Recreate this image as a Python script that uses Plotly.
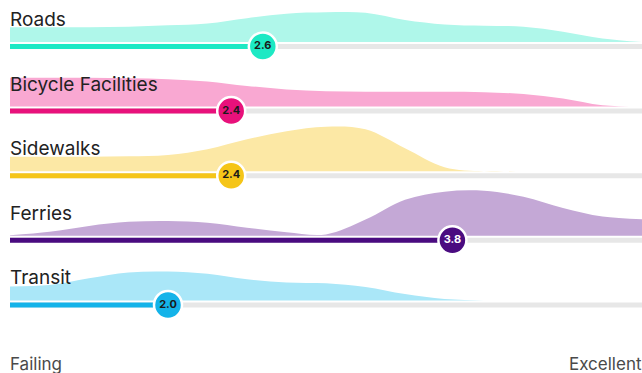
import plotly.graph_objects as go

# Survey categories and their average grades on a 1 (Failing) to 5 (Excellent) scale
categories = ["Roads", "Bicycle Facilities", "Sidewalks", "Ferries", "Transit"]
scores = [2.6, 2.4, 2.4, 3.8, 2.0]

# Grade points at which the response distributions are sampled
grade_grid = [1.0, 1.25, 1.5, 1.75, 2.0, 2.25, 2.5, 2.75, 3.0,
              3.25, 3.5, 3.75, 4.0, 4.25, 4.5, 4.75, 5.0]

# Relative response density (1.0 = tallest distribution) for each category
density_roads = [0.33, 0.33, 0.33, 0.34, 0.37, 0.41, 0.53, 0.63, 0.66,
                 0.65, 0.49, 0.39, 0.36, 0.34, 0.23, 0.08, 0.0]
density_bicycle = [0.64, 0.64, 0.64, 0.63, 0.61, 0.56, 0.46, 0.38, 0.34,
                   0.33, 0.33, 0.33, 0.32, 0.28, 0.18, 0.03, 0.0]
density_sidewalks = [0.32, 0.32, 0.32, 0.33, 0.36, 0.49, 0.71, 0.89, 0.99,
                     0.93, 0.51, 0.09, 0.0, 0.0, 0.0, 0.0, 0.0]
density_ferries = [0.01, 0.09, 0.22, 0.31, 0.33, 0.29, 0.18, 0.08, 0.03,
                   0.36, 0.80, 0.98, 1.0, 0.87, 0.62, 0.43, 0.37]
density_transit = [0.31, 0.34, 0.49, 0.62, 0.64, 0.59, 0.47, 0.40, 0.38,
                   0.30, 0.14, 0.03, 0.0, 0.0, 0.0, 0.0, 0.0]
densities = [density_roads, density_bicycle, density_sidewalks,
             density_ferries, density_transit]

scale_labels = ["Failing", "Excellent"]
scale_min, scale_max = 1.0, 5.0

# Styling
bar_colors = ["#1DE9C4", "#E8117B", "#F5C518", "#4A0B80", "#14B3E9"]
area_colors = ["#AFF7EA", "#F9A8D2", "#FCE8A5", "#C4A8D6", "#AAE7F8"]
badge_text_colors = ["#1A1A1A", "#1A1A1A", "#1A1A1A", "#FFFFFF", "#1A1A1A"]
track_color = "#E7E7E7"
font_family = "Inter, Lato, sans-serif"

W, H = 642, 373
first_row = 46.5          # vertical position of first track
row_step = 64.6           # spacing between rows
area_gap = 4.5            # gap between distribution and track
area_height = 45          # height of a density of 1.0
bar_width = 5

fig = go.Figure()
annotations = []

for i, name in enumerate(categories):
    center = first_row + i * row_step
    base = center - area_gap

    # distribution area
    fig.add_trace(go.Scatter(
        x=grade_grid, y=[base] * len(grade_grid), mode="lines",
        line=dict(width=0, color=area_colors[i]), hoverinfo="skip",
        showlegend=False))
    fig.add_trace(go.Scatter(
        x=grade_grid, y=[base - d * area_height for d in densities[i]],
        mode="lines", fill="tonexty", fillcolor=area_colors[i],
        line=dict(width=0, color=area_colors[i], shape="spline", smoothing=1.0),
        hoverinfo="skip", showlegend=False))

    # grey track across full scale
    fig.add_trace(go.Scatter(
        x=[scale_min, scale_max], y=[center, center], mode="lines",
        line=dict(color=track_color, width=bar_width), hoverinfo="skip",
        showlegend=False))

    # colored progress bar up to the score
    fig.add_trace(go.Scatter(
        x=[scale_min, scores[i]], y=[center, center], mode="lines",
        line=dict(color=bar_colors[i], width=bar_width), hoverinfo="skip",
        showlegend=False))

    # score badge
    fig.add_trace(go.Scatter(
        x=[scores[i]], y=[center], mode="markers+text",
        marker=dict(size=28, color=bar_colors[i],
                    line=dict(color="#FFFFFF", width=2.5)),
        text=[f"{scores[i]:.1f}"], textposition="middle center",
        textfont=dict(size=11, color=badge_text_colors[i], family=font_family,
                      weight=700),
        hoverinfo="skip", showlegend=False))

    annotations.append(dict(
        x=scale_min, y=center - 27, xref="x", yref="y", xshift=-2,
        xanchor="left", yanchor="middle", showarrow=False, text=name,
        font=dict(size=19, color="#222222", family=font_family)))

annotations.append(dict(
    x=scale_min, y=364, xref="x", yref="y", xshift=-2,
    xanchor="left", yanchor="middle",
    showarrow=False, text=scale_labels[0],
    font=dict(size=17, color="#4A4A4A", family=font_family)))
annotations.append(dict(
    x=scale_max, y=364, xref="x", yref="y", xshift=2,
    xanchor="right", yanchor="middle",
    showarrow=False, text=scale_labels[1],
    font=dict(size=17, color="#4A4A4A", family=font_family)))

px_per_unit = (W - 10) / (scale_max - scale_min)
fig.update_layout(
    width=W, height=H,
    margin=dict(l=0, r=0, t=0, b=0),
    paper_bgcolor="#FFFFFF", plot_bgcolor="#FFFFFF",
    showlegend=False,
    xaxis=dict(range=[scale_min - 10 / px_per_unit, scale_max], visible=False,
               fixedrange=True),
    yaxis=dict(range=[H, 0], visible=False, fixedrange=True),
    annotations=annotations,
)

fig.write_html("out.html", config={"displayModeBar": False})
